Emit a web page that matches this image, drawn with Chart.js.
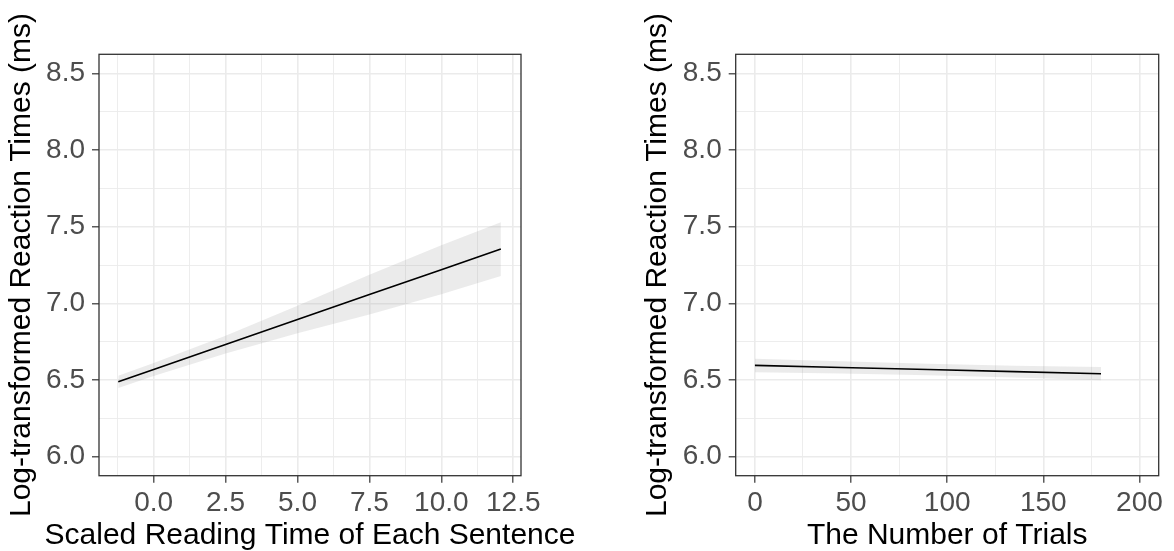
<!DOCTYPE html>
<html>
<head>
<meta charset="utf-8">
<script src="https://cdn.jsdelivr.net/npm/chart.js@4.4.1/dist/chart.umd.min.js"></script>
<style>
  html, body { margin: 0; padding: 0; background: #fff; }
  body { width: 1174px; height: 551px; position: relative; overflow: hidden; }
  canvas { position: absolute; top: 0; }
  #reading { left: 0; }
  #trials { left: 595px; }
</style>
</head>
<body>
<canvas id="reading" width="590" height="551"></canvas>
<canvas id="trials" width="579" height="551"></canvas>
<script>
// predicted log RT with confidence band, by sentence reading time
const readingX = [-1.23, 0, 2.5, 5, 7.5, 10, 12.07];
const readingFit = [6.488, 6.568, 6.731, 6.894, 7.057, 7.219, 7.354];
const readingLower = [6.448, 6.526, 6.673, 6.804, 6.927, 7.059, 7.179];
const readingUpper = [6.528, 6.610, 6.789, 6.984, 7.187, 7.379, 7.529];

// same, by trial number
const trialX = [0, 45, 90, 135, 180];
const trialFit = [6.595, 6.581, 6.568, 6.554, 6.540];
const trialLower = [6.550, 6.542, 6.531, 6.516, 6.498];
const trialUpper = [6.638, 6.622, 6.605, 6.592, 6.584];

// axis breaks
const rtTicks = [6.0, 6.5, 7.0, 7.5, 8.0, 8.5];
const rtMinor = [6.25, 6.75, 7.25, 7.75, 8.25];
const readingTicks = [0, 2.5, 5, 7.5, 10, 12.5];
const readingMinor = [-1.25, 1.25, 3.75, 6.25, 8.75, 11.25];
const trialTicks = [0, 50, 100, 150, 200];
const trialMinor = [25, 75, 125, 175];

const FONT = "'Liberation Sans', Arial, sans-serif";
const Y_TITLE = 'Log-transformed Reaction Times (ms)';

// box around the panel, like theme_bw
const panelBorder = {
  id: 'panelBorder',
  afterDraw(chart) {
    const { ctx, chartArea: a } = chart;
    ctx.save();
    ctx.strokeStyle = '#333333';
    ctx.lineWidth = 1.3;
    ctx.strokeRect(a.left, a.top, a.right - a.left, a.bottom - a.top);
    ctx.restore();
  }
};

// x title drawn by hand: the built-in one gets squeezed to the panel width
const xTitle = {
  id: 'xTitle',
  afterDraw(chart, args, opts) {
    const { ctx, chartArea: a } = chart;
    ctx.save();
    ctx.font = '30px ' + FONT;
    ctx.fillStyle = '#000';
    ctx.textAlign = 'center';
    ctx.textBaseline = 'middle';
    ctx.fillText(opts.text, (a.left + a.right) / 2, chart.height - 15);
    ctx.restore();
  }
};

function axis(o) {
  const isMajor = v => o.ticks.some(m => Math.abs(m - v) < 1e-9);
  const major = c => c.tick && isMajor(c.tick.value);
  return {
    type: 'linear',
    min: o.min,
    max: o.max,
    afterBuildTicks: a => {
      a.ticks = o.ticks.concat(o.minor).sort((p, q) => p - q).map(v => ({ value: v }));
    },
    afterFit: a => {
      if (o.width) a.width = o.width;
      if (o.height) a.height = o.height;
    },
    grid: {
      color: '#EBEBEB',
      lineWidth: c => major(c) ? 1.6 : 0.9,
      tickColor: c => major(c) ? '#333333' : 'rgba(0,0,0,0)',
      tickLength: 7,
      tickWidth: 1.2
    },
    border: { display: false },
    ticks: {
      autoSkip: false,
      maxRotation: 0,
      padding: o.pad,
      color: '#4D4D4D',
      font: { family: FONT, size: 28, lineHeight: 1.2 },
      callback: v => isMajor(v) ? v.toFixed(o.digits) : ''
    },
    title: {
      display: !!o.title,
      text: o.title,
      color: '#000',
      font: { family: FONT, size: 30, lineHeight: 1 },
      padding: { top: 7, bottom: 0 }
    }
  };
}

function bandDatasets(xs, fit, lo, hi) {
  const pts = ys => xs.map((x, i) => ({ x: x, y: ys[i] }));
  return [
    { data: pts(fit), borderColor: '#000', borderWidth: 1.6, pointRadius: 0, fill: false, order: 0 },
    { data: pts(hi), borderColor: 'rgba(0,0,0,0)', borderWidth: 0, pointRadius: 0,
      fill: '+1', backgroundColor: 'rgba(153,153,153,0.2)', order: 1 },
    { data: pts(lo), borderColor: 'rgba(0,0,0,0)', borderWidth: 0, pointRadius: 0, fill: false, order: 2 }
  ];
}

function panel(id, datasets, xAxis, yAxis, padding, xLabel) {
  return new Chart(document.getElementById(id), {
    type: 'line',
    data: { datasets: datasets },
    options: {
      responsive: false,
      animation: false,
      devicePixelRatio: 1,
      layout: { padding: padding },
      elements: { line: { tension: 0 } },
      plugins: {
        legend: { display: false },
        tooltip: { enabled: false },
        xTitle: { text: xLabel }
      },
      scales: { x: xAxis, y: yAxis }
    },
    plugins: [panelBorder, xTitle]
  });
}

panel('reading',
  bandDatasets(readingX, readingFit, readingLower, readingUpper),
  axis({ min: -1.90, max: 12.77, ticks: readingTicks, minor: readingMinor, digits: 1,
         pad: 3.5, height: 75.3 }),
  axis({ min: 5.875, max: 8.625, ticks: rtTicks, minor: rtMinor, digits: 1,
         pad: 7, width: 99, title: Y_TITLE }),
  { left: 0, top: 54.3, right: 69, bottom: 0 },
  'Scaled Reading Time of Each Sentence');

panel('trials',
  bandDatasets(trialX, trialFit, trialLower, trialUpper),
  axis({ min: -10, max: 210, ticks: trialTicks, minor: trialMinor, digits: 0,
         pad: 3.5, height: 75.3 }),
  axis({ min: 5.875, max: 8.625, ticks: rtTicks, minor: rtMinor, digits: 1,
         pad: 7, width: 99.7, title: Y_TITLE }),
  { left: 41, top: 54.3, right: 15.3, bottom: 0 },
  'The Number of Trials');
</script>
</body>
</html>
